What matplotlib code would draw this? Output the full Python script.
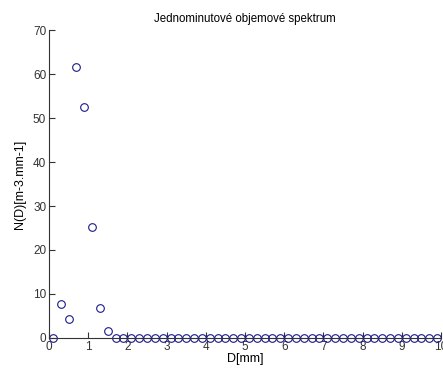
import numpy as np
import matplotlib.pyplot as plt

# prumery kapek [mm] a koncentrace
D = np.round(np.arange(0.1, 10.0, 0.2), 1)
N_start = [0, 7.8, 4.3, 61.6, 52.6, 25.3, 6.8, 1.5]
N = np.zeros(len(D))
N[:len(N_start)] = N_start

plt.rcParams['font.family'] = ['Liberation Sans', 'DejaVu Sans']

fig = plt.figure(figsize=(4.43, 3.71), dpi=100)
ax = fig.add_axes([49/443, 1 - 338/371, (441 - 49)/443, (338 - 30)/371])

ax.plot(D, N, 'o', markerfacecolor='none', markeredgecolor='#1a1a8c',
        markersize=5.5, markeredgewidth=0.8, clip_on=False)

ax.set_xlim(0, 10)
ax.set_ylim(0, 70)
ax.set_xticks(range(0, 11))
ax.set_yticks(range(0, 71, 10))
ax.spines['top'].set_visible(False)
ax.spines['right'].set_visible(False)
for s in ['left', 'bottom']:
    ax.spines[s].set_color('#333333')
    ax.spines[s].set_linewidth(0.8)
ax.tick_params(direction='in', length=4, width=0.8, labelsize=8.5, colors='#333333', pad=2)

ax.set_title('Jednominutové objemové spektrum', fontsize=8.3, pad=6)
ax.set_xlabel('D[mm]', fontsize=9, labelpad=0)
ax.set_ylabel('N(D)[m-3.mm-1]', fontsize=9, labelpad=5)

fig.savefig('out.png', dpi=100)
